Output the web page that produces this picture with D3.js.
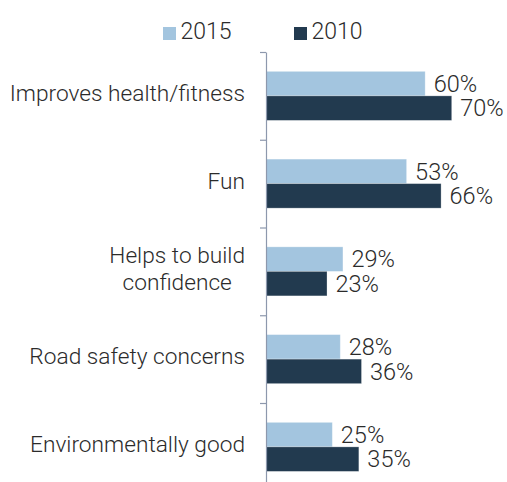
<!DOCTYPE html>
<html>
<head>
<meta charset="utf-8">
<script src="https://cdn.jsdelivr.net/npm/d3@7/dist/d3.min.js"></script>
<style>
  html, body { margin: 0; padding: 0; background: #fff; }
  svg { display: block; font-family: Roboto, "Liberation Sans", Arial, sans-serif; font-weight: 300; }
</style>
</head>
<body>
<svg id="chart" width="507" height="482"></svg>
<script>
// Reasons for cycling, share of respondents
const categories = [
  ["Improves health/fitness"],
  ["Fun"],
  ["Helps to build", "confidence"],
  ["Road safety concerns"],
  ["Environmentally good"]
];
const seriesNames = ["2015", "2010"];
const values2015 = [60, 53, 29, 28, 25];
const values2010 = [70, 66, 23, 36, 35];
const seriesColors = ["#a3c5df", "#223a4f"];

const svg = d3.select("#chart");
const axisX = 266;
const textColor = "#2b2b2b";

const keys = categories.map(c => c.join(" "));
const series = [values2015, values2010];

const x = d3.scaleLinear().domain([0, 70]).range([axisX, 451.7]);
const y = d3.scaleBand().domain(keys).range([52, 490.75]).padding(0);
const sub = d3.scaleBand().domain(seriesNames).range([0, y.bandwidth()]).paddingInner(0).paddingOuter(0.79);

const labelSize = 22.7;
const valueSize = 23.5;

// Bars and value labels
seriesNames.forEach((name, si) => {
  const g = svg.append("g");
  g.selectAll("rect")
    .data(series[si])
    .join("rect")
    .attr("x", x(0))
    .attr("y", (d, i) => y(keys[i]) + sub(name))
    .attr("width", d => x(d) - x(0))
    .attr("height", sub.bandwidth())
    .attr("fill", seriesColors[si])
    .attr("stroke", "rgba(255,255,255,0.35)")
    .attr("stroke-width", 0.8);
  g.selectAll("text")
    .data(series[si])
    .join("text")
    .attr("x", d => x(d) + 8.5)
    .attr("y", (d, i) => y(keys[i]) + sub(name) + sub.bandwidth() / 2)
    .attr("dy", "0.35em")
    .attr("fill", textColor)
    .attr("font-size", valueSize)
    .text(d => d + "%");
});

// Category axis with ticks at category boundaries
const edge = d3.scaleLinear().domain([0, keys.length]).range([52, 490.75]);
const axis = svg.append("g")
  .attr("transform", `translate(${axisX},0)`)
  .call(d3.axisLeft(edge).ticks(keys.length).tickSize(6).tickSizeOuter(0).tickFormat(""));
axis.selectAll("path, line").attr("stroke", "#8d98ad").attr("stroke-width", 1.2);

// Category labels (multi-line labels centred on each other, block right-aligned)
const labelRight = 245;
categories.forEach((lines, i) => {
  const cy = y(keys[i]) + y.bandwidth() / 2;
  const t = svg.append("text")
    .attr("fill", textColor)
    .attr("font-size", labelSize);
  if (lines.length === 1) {
    t.attr("x", labelRight).attr("y", cy + 5).attr("text-anchor", "end").text(lines[0]);
  } else {
    const lh = 26.5;
    const widths = lines.map(l => {
      const tmp = svg.append("text").attr("font-size", labelSize).text(l);
      const w = tmp.node().getComputedTextLength();
      tmp.remove();
      return w;
    });
    const cx = labelRight - d3.max(widths) / 2;
    lines.forEach((l, li) => {
      t.append("tspan")
        .attr("x", cx)
        .attr("y", cy + 5 + (li - (lines.length - 1) / 2) * lh)
        .attr("text-anchor", "middle")
        .text(l);
    });
  }
});

// Legend
const legendX = [163, 294];
seriesNames.forEach((name, si) => {
  const g = svg.append("g").attr("transform", `translate(${legendX[si]},27)`);
  g.append("rect").attr("width", 13).attr("height", 13).attr("fill", seriesColors[si]);
  g.append("text")
    .attr("x", 17.5).attr("y", 12)
    .attr("fill", textColor)
    .attr("font-size", 23)
    .text(name);
});
</script>
</body>
</html>
